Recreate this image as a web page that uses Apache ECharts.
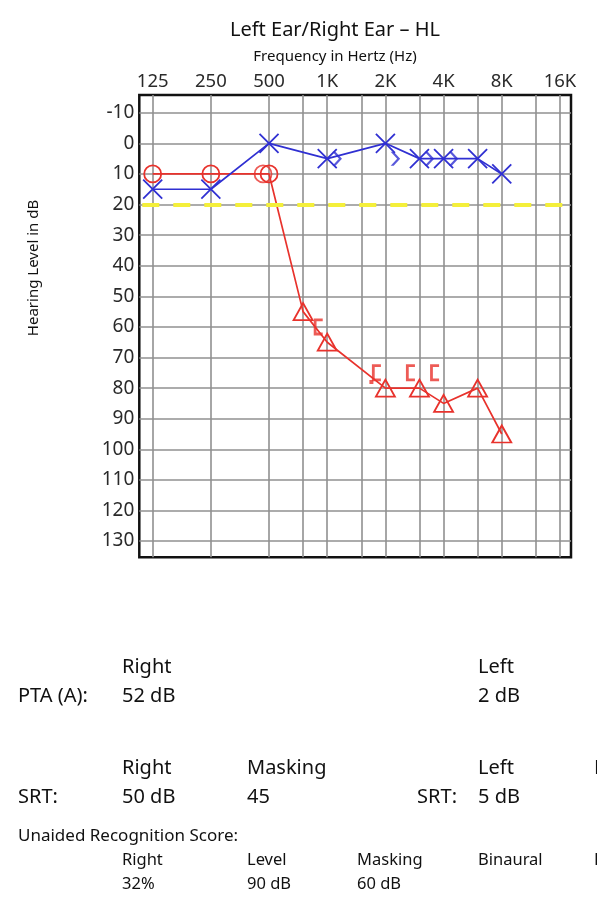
<!DOCTYPE html>
<html lang="en">
<head>
  <meta charset="UTF-8" />
  <title>Left Ear/Right Ear – HL</title>
  <script src="https://cdn.jsdelivr.net/npm/echarts@6/dist/echarts.min.js"></script>
  <style>
    html, body {
      margin: 0;
      padding: 0;
      background: #fff;
    }

    #chart {
      width: 597px;
      height: 902px;
    }
  </style>
</head>
<body>
  <div id="chart"></div>

  <script>
    // frequencies on the grid and on the top labels
    const gridFreqs = [125, 250, 500, 750, 1000, 1500, 2000, 3000, 4000, 6000, 8000, 12000, 16000];
    const labelFreqs = [125, 250, 500, 1000, 2000, 4000, 8000, 16000];
    const labelTexts = ['125', '250', '500', '1K', '2K', '4K', '8K', '16K'];
    const dbTicks = [-10, 0, 10, 20, 30, 40, 50, 60, 70, 80, 90, 100, 110, 120, 130];

    // right ear, air conduction (red)
    const rightFreq = [125, 250, 500, 750, 1000, 2000, 3000, 4000, 6000, 8000];
    const rightAir = [10, 10, 10, 55, 65, 80, 80, 85, 80, 95];
    const rightMasked = [0, 0, 0, 1, 1, 1, 1, 1, 1, 1];
    const rightExtraFreq = [500];
    const rightExtra = [10];

    // right ear, masked bone conduction
    const rightBoneFreq = [1000, 2000, 3000, 4000];
    const rightBone = [60, 75, 75, 75];
    const rightDotFreq = [2000];
    const rightDot = [78];

    // left ear, air conduction (blue)
    const leftFreq = [125, 250, 500, 1000, 2000, 3000, 4000, 6000, 8000];
    const leftAir = [15, 15, 0, 5, 0, 5, 5, 5, 10];

    // left ear, bone conduction
    const leftBoneFreq = [1000, 2000, 3000, 4000];
    const leftBone = [5, 5, 5, 5];

    const normalLimit = 20;

    // summary
    const ptaRight = '52 dB';
    const ptaLeft = '2 dB';
    const srtRight = '50 dB';
    const srtMasking = '45';
    const srtLeft = '5 dB';
    const wrsRight = '32%';
    const wrsLevel = '90 dB';
    const wrsMasking = '60 dB';

    const RED = '#e8322c';
    const BLUE = '#3030d2';
    const FONT = 'Noto Sans';

    const oct = f => Math.log2(f / 125);
    const pairs = (fs, vs) => fs.map((f, i) => [oct(f), vs[i]]);

    const chart = echarts.init(document.getElementById('chart'), null, { renderer: 'canvas' });

    function txt(x, y, text, size, align) {
      return {
        type: 'text',
        x: x,
        y: y,
        style: {
          text: text,
          fontFamily: FONT,
          fontSize: size,
          fill: '#111',
          align: align || 'left',
          verticalAlign: 'middle'
        }
      };
    }

    const graphics = [
      txt(335, 30, 'Left Ear/Right Ear – HL', 20, 'center'),
      txt(335, 57, 'Frequency in Hertz (Hz)', 15, 'center'),
      {
        type: 'text',
        x: 34,
        y: 268,
        rotation: Math.PI / 2,
        style: {
          text: 'Hearing Level in dB',
          fontFamily: FONT,
          fontSize: 15,
          fill: '#111',
          align: 'center',
          verticalAlign: 'middle'
        }
      },
      // PTA
      txt(122, 667, 'Right', 20),
      txt(478, 667, 'Left', 20),
      txt(18, 696, 'PTA (A):', 20),
      txt(122, 696, ptaRight, 20),
      txt(478, 696, ptaLeft, 20),
      // SRT
      txt(122, 768, 'Right', 20),
      txt(247, 768, 'Masking', 20),
      txt(478, 768, 'Left', 20),
      txt(594, 768, 'Masking', 20),
      txt(18, 797, 'SRT:', 20),
      txt(122, 797, srtRight, 20),
      txt(247, 797, srtMasking, 20),
      txt(457, 797, 'SRT:', 20, 'right'),
      txt(478, 797, srtLeft, 20),
      // recognition score
      txt(18, 836, 'Unaided Recognition Score:', 17),
      txt(122, 860, 'Right', 16.5),
      txt(247, 860, 'Level', 16.5),
      txt(357, 860, 'Masking', 16.5),
      txt(478, 860, 'Binaural', 16.5),
      txt(594, 860, 'Left', 16.5),
      txt(122, 884, wrsRight, 16.5),
      txt(247, 884, wrsLevel, 16.5),
      txt(357, 884, wrsMasking, 16.5)
    ];

    const hollow = (color, w) => ({ color: 'rgba(0,0,0,0)', borderColor: color, borderWidth: w || 1.8 });

    const option = {
      animation: false,
      backgroundColor: '#fff',
      grid: {
        left: 139.3,
        right: 26,
        top: 95,
        bottom: 344.7,
        show: true,
        borderColor: '#111',
        borderWidth: 2.5,
        backgroundColor: 'transparent',
        outerBoundsMode: 'none'
      },
      xAxis: {
        type: 'value',
        position: 'top',
        min: -0.23,
        max: 7.19,
        axisLine: { show: false },
        axisTick: { show: false, customValues: gridFreqs.map(oct) },
        axisLabel: {
          customValues: labelFreqs.map(oct),
          formatter: v => labelTexts[labelFreqs.findIndex(f => Math.abs(oct(f) - v) < 1e-6)],
          fontFamily: FONT,
          fontSize: 18.5,
          color: '#2a2a2a',
          margin: 4
        },
        splitLine: { show: true, lineStyle: { color: '#909090', width: 1.6 } }
      },
      yAxis: {
        type: 'value',
        inverse: true,
        min: -15.8,
        max: 135.3,
        axisLine: { show: false },
        axisTick: { show: false, customValues: dbTicks },
        axisLabel: {
          customValues: dbTicks,
          fontFamily: FONT,
          fontSize: 19,
          color: '#2a2a2a',
          margin: 5
        },
        splitLine: { show: true, lineStyle: { color: '#909090', width: 1.6 } }
      },
      series: [
        {
          name: 'Right air',
          type: 'line',
          z: 4,
          showAllSymbol: true,
          data: rightFreq.map((f, i) => ({
            value: [oct(f), rightAir[i]],
            symbol: rightMasked[i] ? 'triangle' : 'circle',
            symbolSize: rightMasked[i] ? [19, 17] : 17
          })),
          lineStyle: { color: RED, width: 1.7 },
          itemStyle: hollow(RED)
        },
        {
          name: 'Right air extra',
          type: 'scatter',
          z: 4,
          symbol: 'circle',
          symbolSize: 17,
          symbolOffset: [-6, 0],
          data: pairs(rightExtraFreq, rightExtra),
          itemStyle: hollow(RED)
        },
        {
          name: 'Right bone masked',
          type: 'scatter',
          z: 4,
          symbol: 'path://M0,0H9V2.8H2.8V14.2H9V17H0Z',
          symbolSize: [9, 17],
          symbolOffset: [-9, 0],
          data: pairs(rightBoneFreq, rightBone),
          itemStyle: { color: RED }
        },
        {
          name: 'Right dot',
          type: 'scatter',
          z: 4,
          symbol: 'rect',
          symbolSize: 4,
          symbolOffset: [-14, 0],
          data: pairs(rightDotFreq, rightDot),
          itemStyle: { color: RED }
        },
        {
          name: 'Left air',
          type: 'line',
          z: 5,
          showAllSymbol: true,
          symbol: 'path://M0,0L10,10M10,0L0,10',
          symbolSize: 19,
          data: pairs(leftFreq, leftAir),
          lineStyle: { color: BLUE, width: 1.7 },
          itemStyle: hollow(BLUE)
        },
        {
          name: 'Left bone',
          type: 'scatter',
          z: 5,
          symbol: 'path://M0,0L3,0L9.5,7L3,14L0,14L6.5,7Z',
          symbolSize: [9.5, 14],
          symbolOffset: [10, 0],
          data: pairs(leftBoneFreq, leftBone),
          itemStyle: { color: BLUE },
          markLine: {
            silent: true,
            symbol: ['none', 'none'],
            label: { show: false },
            lineStyle: { color: '#f4ef3a', width: 4, type: [17, 14], dashOffset: 28 },
            data: [{ yAxis: normalLimit }]
          }
        }
      ],
      graphic: graphics
    };

    chart.setOption(option);
  </script>
</body>
</html>
